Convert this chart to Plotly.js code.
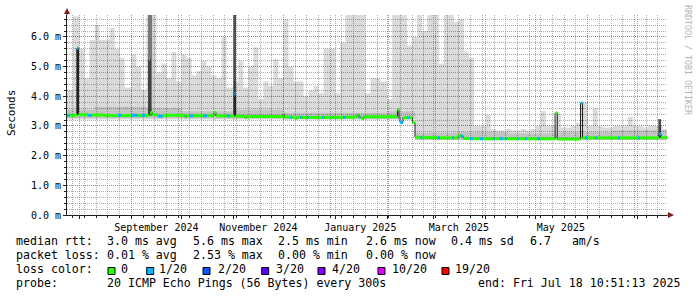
<!DOCTYPE html>
<html><head><meta charset="utf-8">
<script src="https://cdn.plot.ly/plotly-3.0.1.min.js"></script>
<style>html,body{margin:0;padding:0;background:#fff}#chart{width:697px;height:297px}</style>
</head><body><div id="chart"></div>
<script>
// ---------------- data ----------------
const startDate = '2024-07-24 12:00';
const endDate = '2025-07-18 10:51';

// light smoke: upper envelope (ms), step starts at each date
const smokeDates = ['2024-07-24 12:00','2024-07-28','2024-08-01','2024-08-04','2024-08-07','2024-08-10','2024-08-13','2024-08-16','2024-08-19','2024-08-22','2024-08-25','2024-08-28',
'2024-09-01','2024-09-04','2024-09-07','2024-09-10','2024-09-13','2024-09-16','2024-09-19','2024-09-22','2024-09-25','2024-09-28',
'2024-10-01','2024-10-04','2024-10-07','2024-10-10','2024-10-13','2024-10-16','2024-10-19','2024-10-22','2024-10-25','2024-10-28',
'2024-11-01','2024-11-04','2024-11-07','2024-11-10','2024-11-13','2024-11-16','2024-11-19','2024-11-22','2024-11-25','2024-11-28',
'2024-12-01','2024-12-04','2024-12-07','2024-12-10','2024-12-13','2024-12-16','2024-12-19','2024-12-22','2024-12-25','2024-12-28',
'2025-01-01','2025-01-04','2025-01-07','2025-01-10','2025-01-13','2025-01-16','2025-01-19','2025-01-22','2025-01-25','2025-01-28',
'2025-02-01','2025-02-04','2025-02-07','2025-02-10','2025-02-13','2025-02-16','2025-02-19','2025-02-22','2025-02-25','2025-02-28',
'2025-03-01','2025-03-04','2025-03-07','2025-03-10','2025-03-13','2025-03-16','2025-03-19','2025-03-22','2025-03-25','2025-03-28',
'2025-04-01','2025-04-04','2025-04-07','2025-04-10','2025-04-13','2025-04-16','2025-04-19','2025-04-22','2025-04-25','2025-04-28',
'2025-05-01','2025-05-04','2025-05-07','2025-05-10','2025-05-13','2025-05-16','2025-05-19','2025-05-22','2025-05-25','2025-05-28',
'2025-06-01','2025-06-04','2025-06-07','2025-06-10','2025-06-13','2025-06-16','2025-06-19','2025-06-22','2025-06-25','2025-06-28',
'2025-07-01','2025-07-04','2025-07-07','2025-07-10','2025-07-13','2025-07-16'];
const smokeMax = [4.2,6.7,5.6,4.6,5.9,6.4,5.9,5.9,6.3,5.6,5.3,4.3,
5.4,5.0,4.2,6.76,6.76,4.8,5.1,4.6,5.5,4.5,
5.4,5.3,4.7,4.85,5.2,5.0,4.7,4.6,6.0,4.3,
4.5,5.2,4.3,5.0,5.65,3.9,4.5,4.35,5.25,4.6,
6.6,5.0,4.5,4.5,4.0,4.2,4.35,4.1,5.6,5.6,
4.1,5.8,6.76,6.76,6.76,6.76,4.1,4.6,4.6,4.5,
3.9,6.76,6.76,6.76,5.7,6.0,6.76,6.2,6.76,6.76,
6.76,5.1,6.76,6.76,6.5,6.6,5.5,5.3,3.0,3.0,
3.37,2.9,2.85,2.85,2.9,2.85,2.85,2.9,2.85,2.9,
3.0,3.5,3.0,3.0,3.4,2.95,2.95,3.0,3.1,3.8,
3.0,3.6,3.0,2.95,2.95,3.0,3.0,3.0,3.3,3.0,
3.0,2.95,3.0,3.0,3.0,2.9];
// light smoke: lower envelope
const smokeMinDates = ['2024-07-24 12:00','2025-02-17 16:00','2025-07-18 10:51'];
const smokeMin = [3.22,2.52,2.52];

// darker smoke band around the median
const bandDates = ['2024-07-24 12:00','2024-08-10','2024-09-10','2024-10-01','2024-11-01','2024-12-01','2025-01-01','2025-02-01','2025-02-17 16:00','2025-03-15','2025-04-15','2025-05-15','2025-06-15','2025-07-18 10:51'];
const bandLo = [3.26,3.26,3.26,3.25,3.24,3.22,3.22,3.23,2.53,2.53,2.53,2.53,2.53,2.53];
const bandHi = [3.55,3.65,3.6,3.5,3.55,3.45,3.45,3.5,2.78,2.8,2.75,2.8,2.85,2.85];

// dark smoke columns at the spikes
const spikeStart = ['2024-07-30 06:00','2024-09-11 00:00','2024-11-01 00:00','2025-07-13 07:00'];
const spikeEnd   = ['2024-07-31 12:00','2024-09-13 10:00','2024-11-02 14:00','2025-07-14 21:00'];
const spikeLo = [3.38,3.35,3.33,2.60];
const spikeHi = [5.62,6.76,6.76,3.23];
const spikeColors = ['#333333','#8c8c8c','#4a4a4a','#4a4a4a'];

// median rtt (ms) and lost pings (of 20) per step
const medDates = ['2024-07-24 12:00','2024-07-26 06:00','2024-07-30 12:00','2024-07-31 09:00','2024-08-06 00:00','2024-08-08 12:00','2024-08-16 00:00','2024-08-24 00:00','2024-08-26 00:00','2024-09-01 08:00',
'2024-09-05 00:00','2024-09-07 08:00','2024-09-09 04:00','2024-09-11 12:00','2024-09-12 06:00','2024-09-13 12:00','2024-09-16 22:00','2024-09-19 22:00','2024-10-03 00:00','2024-10-04 00:00',
'2024-10-06 00:00','2024-10-08 00:00','2024-10-13 22:00','2024-10-16 06:00','2024-10-20 10:00','2024-10-21 15:00','2024-10-28 04:00','2024-10-30 00:00','2024-11-01 14:00','2024-11-02 08:00',
'2024-11-08 00:00','2024-11-09 00:00','2024-11-30 16:00','2024-12-01 12:00','2024-12-04 22:00','2024-12-06 02:00','2024-12-07 22:00','2024-12-09 00:00','2024-12-10 22:00','2024-12-12 00:00',
'2024-12-15 02:00','2024-12-16 02:00','2024-12-24 02:00','2024-12-25 02:00','2025-01-05 16:00','2025-01-07 00:00','2025-01-14 00:00','2025-01-15 00:00','2025-01-16 00:00','2025-01-17 00:00',
'2025-01-18 00:00','2025-02-07 04:00','2025-02-08 02:00','2025-02-08 17:00','2025-02-10 12:00','2025-02-13 00:00','2025-02-14 12:00','2025-02-16 04:00','2025-02-17 16:00','2025-02-21 00:00',
'2025-02-22 00:00','2025-03-03 00:00','2025-03-04 12:00','2025-03-12 00:00','2025-03-13 00:00','2025-03-15 10:00','2025-03-17 00:00','2025-03-18 12:00','2025-03-22 12:00','2025-03-24 09:00',
'2025-03-28 14:00','2025-03-30 09:00','2025-04-05 09:00','2025-04-06 09:00','2025-04-09 12:00','2025-04-11 07:00','2025-04-12 12:00','2025-04-13 12:00','2025-04-19 17:00','2025-04-20 17:00',
'2025-04-24 12:00','2025-04-25 17:00','2025-05-01 17:00','2025-05-03 12:00','2025-05-12 12:00','2025-05-13 19:00','2025-05-27 17:00','2025-05-28 22:00','2025-05-30 10:00','2025-05-31 14:00',
'2025-06-05 10:00','2025-06-06 10:00','2025-06-19 02:00','2025-06-20 02:00','2025-07-01 02:00','2025-07-02 02:00','2025-07-13 17:00','2025-07-14 22:00'];
const medVals = [3.36,3.36,5.62,3.38,3.36,3.37,3.35,3.36,3.35,3.36,
3.35,3.36,3.35,5.25,3.45,3.38,3.33,3.36,3.30,3.35,
3.34,3.35,3.34,3.35,3.45,3.34,3.34,3.33,4.08,3.33,
3.28,3.32,3.40,3.30,3.29,3.30,3.25,3.30,3.29,3.29,
3.29,3.29,3.29,3.29,3.29,3.30,3.38,3.30,3.30,3.24,
3.31,3.55,3.25,3.12,3.28,3.28,3.28,3.12,2.62,2.61,
2.61,2.60,2.60,2.60,2.60,2.68,2.66,2.58,2.57,2.57,
2.57,2.57,2.57,2.57,2.57,2.57,2.57,2.57,2.57,2.57,
2.57,2.57,2.57,2.57,3.44,2.56,3.77,2.60,2.60,2.60,
2.60,2.60,2.60,2.60,2.60,2.60,2.73,2.61];
const medLoss = [1,0,1,0,1,0,0,1,0,1,
0,1,0,1,0,0,1,0,0,0,
1,0,1,0,0,0,1,0,1,0,
0,0,0,0,1,0,0,0,1,0,
1,0,1,0,1,0,0,1,0,0,
0,0,1,1,0,1,0,0,0,1,
0,1,0,1,0,0,1,0,1,0,
1,0,1,0,1,0,1,0,1,0,
1,0,1,0,0,0,1,0,1,0,
1,0,1,0,1,0,1,0];

// axis ticks and legend texts
const monthTicks = ['2024-08-01','2024-09-01','2024-10-01','2024-11-01','2024-12-01','2025-01-01','2025-02-01','2025-03-01','2025-04-01','2025-05-01','2025-06-01','2025-07-01'];
const monthLabels = ['','September 2024','','November 2024','','January 2025','','March 2025','','May 2025','',''];
const yTicks = [0,1,2,3,4,5,6];
const yTickText = ['0.0 m','1.0 m','2.0 m','3.0 m','4.0 m','5.0 m','6.0 m'];
const lossLabels = ['0','1/20','2/20','3/20','4/20','10/20','19/20'];
const lossColors = ['#26ff00','#00b8ff','#0059ff','#5e00ff','#7e00ff','#dd00ff','#ff0000'];
const rttStats = ['3.0 ms avg','5.6 ms max','2.5 ms min','2.6 ms now','0.4 ms sd','6.7   am/s'];
const lossStats = ['0.01 % avg','2.53 % max','0.00 % min','0.00 % now'];
const probeText = '20 ICMP Echo Pings (56 Bytes) every 300s';
const endText = 'end: Fri Jul 18 10:51:13 2025';

// ---------------- drawing ----------------
function toMs(s){ const t = s.length === 10 ? s + 'T00:00' : s.replace(' ', 'T'); return Date.parse(t + 'Z'); }
const W = 697, H = 297, L = 67, R = 667, T = 15, B = 215;
const px2x = p => (p - L) / (R - L);
const py2y = p => (B - p) / (B - T);
const nb = s => s.replace(/ /g, '\u00a0');

// horizontal median segments, one per step, split by loss level (no vertical joins)
function lossSegments(level){
  const x = [], y = [];
  medDates.forEach((d, i) => {
    if (medLoss[i] !== level) return;
    x.push(d, i < medDates.length - 1 ? medDates[i + 1] : endDate, null);
    y.push(medVals[i], medVals[i], null);
  });
  return {x, y};
}
const seg0 = lossSegments(0), seg1 = lossSegments(1);

const traces = [
  {type:'bar', x:spikeStart, base:spikeLo, y:spikeHi.map((h, i) => h - spikeLo[i]),
   width:spikeStart.map((s, i) => toMs(spikeEnd[i]) - toMs(s)), offset:0,
   marker:{color:spikeColors, line:{width:0}}, hoverinfo:'skip'},
  {type:'scatter', mode:'lines', x:smokeMinDates, y:smokeMin, line:{width:0, shape:'hv'}, hoverinfo:'skip'},
  {type:'scatter', mode:'lines', x:smokeDates.concat([endDate]), y:smokeMax.concat([smokeMax[smokeMax.length-1]]),
   line:{width:0, shape:'hv'}, fill:'tonexty', fillcolor:'rgba(0,0,0,0.14)', hoverinfo:'skip'},
  {type:'scatter', mode:'lines', x:bandDates, y:bandLo, line:{width:0, shape:'hv'}, hoverinfo:'skip'},
  {type:'scatter', mode:'lines', x:bandDates, y:bandHi, line:{width:0, shape:'hv'}, fill:'tonexty', fillcolor:'rgba(0,0,0,0.11)', hoverinfo:'skip'},
  {type:'scatter', mode:'lines', x:medDates.concat([endDate]), y:medVals.concat([medVals[medVals.length-1]]),
   line:{width:1, shape:'hv', color:'#202020'}, hoverinfo:'skip'},
  {type:'scatter', mode:'lines', x:seg0.x, y:seg0.y, connectgaps:false, line:{width:3, color:lossColors[0]}, hoverinfo:'skip'},
  {type:'scatter', mode:'lines', x:seg1.x, y:seg1.y, connectgaps:false, line:{width:3, color:lossColors[1]}, hoverinfo:'skip'}
];

const gridMinor = 'rgba(143,143,143,0.75)';
const gridMajor = 'rgba(222,79,79,0.6)';
const axisCol = '#1f1f1f';
const mono = 'DejaVu Sans Mono';

const shapes = [
  {type:'line', xref:'paper', yref:'paper', x0:0, x1:0, y0:1, y1:py2y(12), line:{color:axisCol, width:1}},
  {type:'line', xref:'paper', yref:'paper', x0:1, x1:px2x(669), y0:0, y1:0, line:{color:axisCol, width:1}},
  {type:'path', xref:'paper', yref:'paper', path:`M ${px2x(64)},${py2y(14)} L ${px2x(67)},${py2y(8)} L ${px2x(70)},${py2y(14)} Z`, fillcolor:'#801f1f', line:{width:0}},
  {type:'path', xref:'paper', yref:'paper', path:`M ${px2x(668)},${py2y(212)} L ${px2x(674)},${py2y(215)} L ${px2x(668)},${py2y(218)} Z`, fillcolor:'#801f1f', line:{width:0}}
];
const sqX = [108, 146.7, 203, 261.7, 318, 378, 442];
const sqTextX = [120.7, 159.3, 218.3, 276, 331.7, 391.7, 455];
lossLabels.forEach((lab, i) => {
  shapes.push({type:'rect', xref:'paper', yref:'paper', x0:px2x(sqX[i]), x1:px2x(sqX[i] + 7), y0:py2y(274.5), y1:py2y(267.5),
    fillcolor:lossColors[i], line:{color:'#000', width:1}});
});

const ann = [];
function txt(s, x, y, opts){
  ann.push(Object.assign({text:nb(s), x:px2x(x), y:py2y(y), xref:'paper', yref:'paper', xanchor:'left', yanchor:'middle',
    showarrow:false, borderpad:0, borderwidth:0, font:{family:mono, size:11.6, color:'#000'}}, opts || {}));
}
const statX = [107.3, 192.7, 278.3, 366, 451, 530];
txt('median rtt:', 16, 241);
rttStats.forEach((s, i) => txt(s, statX[i], 241));
txt('packet loss:', 16, 255);
lossStats.forEach((s, i) => txt(s, statX[i], 255));
txt('loss color:', 16, 269);
lossLabels.forEach((s, i) => txt(s, sqTextX[i], 269));
txt('probe:', 16, 283);
txt(probeText, 107.3, 283);
txt(endText, 478.3, 283);
ann.push({text:'Seconds', x:px2x(11), y:py2y(113), xref:'paper', yref:'paper', xanchor:'center', yanchor:'middle',
  textangle:-90, showarrow:false, font:{family:mono, size:11, color:'#000'}});
ann.push({text:nb('RRDTOOL / TOBI OETIKER'), x:px2x(688), y:py2y(60), xref:'paper', yref:'paper', xanchor:'center', yanchor:'middle',
  textangle:90, showarrow:false, font:{family:mono, size:8.3, color:'#b3b3b3'}});

const layout = {
  width:W, height:H, margin:{l:L, r:W - R, t:T, b:H - B, pad:0},
  paper_bgcolor:'#ffffff', plot_bgcolor:'#ffffff', showlegend:false, barmode:'overlay',
  font:{family:mono, size:10, color:'#000'},
  xaxis:{type:'date', range:[startDate, endDate], tickmode:'array', tickvals:monthTicks, ticktext:monthLabels,
    ticklabelshift:25, showgrid:true, gridcolor:gridMajor, griddash:'1px,1px', gridwidth:1,
    ticks:'outside', ticklen:3, tickcolor:axisCol, showline:true, linecolor:axisCol, linewidth:1, zeroline:false,
    tickfont:{family:mono, size:10, color:'#000'}, fixedrange:true,
    minor:{tick0:'2024-08-11', dtick:7*86400000, showgrid:true, gridcolor:gridMinor, griddash:'1px,1px', gridwidth:1,
      ticks:'outside', ticklen:2, tickcolor:axisCol}},
  yaxis:{range:[0, 6.74], tickmode:'array', tickvals:yTicks, ticktext:yTickText, showgrid:true, gridcolor:gridMajor,
    griddash:'1px,1px', gridwidth:1, ticks:'outside', ticklen:3, tickcolor:axisCol, showline:true, linecolor:axisCol,
    linewidth:1, zeroline:false, tickfont:{family:mono, size:10, color:'#000'}, fixedrange:true,
    minor:{dtick:0.2, showgrid:true, gridcolor:gridMinor, griddash:'1px,1px', gridwidth:1, ticks:'outside', ticklen:2, tickcolor:axisCol}},
  shapes:shapes, annotations:ann
};
Plotly.newPlot('chart', traces, layout, {staticPlot:true, displayModeBar:false});
</script></body></html>
